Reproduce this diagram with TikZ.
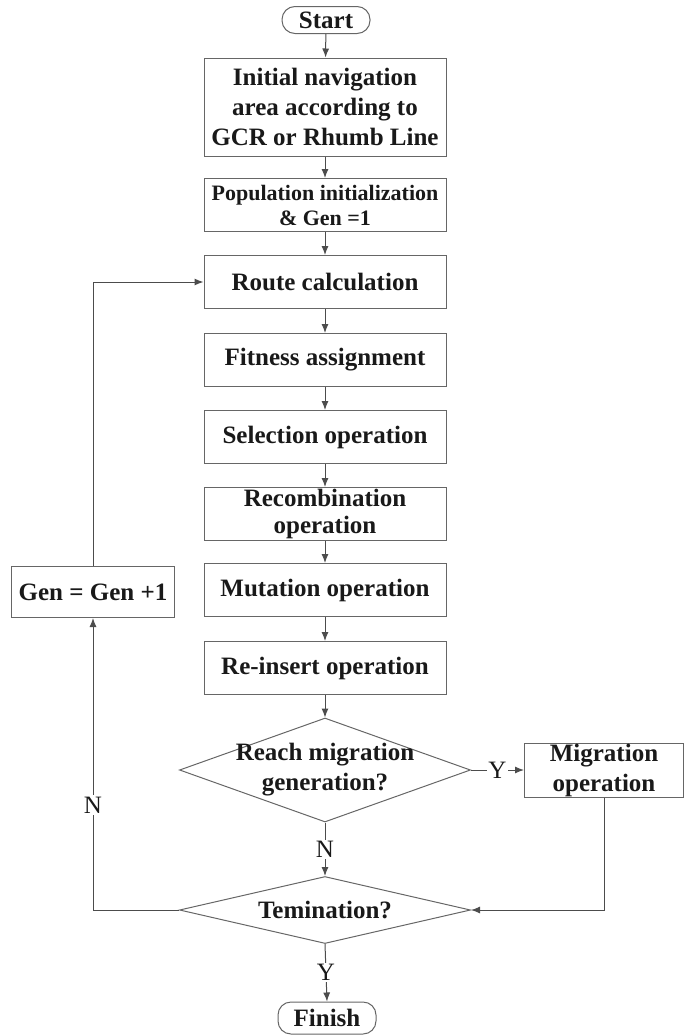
\documentclass[tikz,border=0pt]{standalone}
\usepackage{fontspec}
\setmainfont{Liberation Serif}
\usetikzlibrary{arrows.meta,shapes.geometric}

\begin{document}
\begin{tikzpicture}[x={(1pt,0)}, y={(0,-1pt)}, line width=1pt,
    every node/.style={font=\fontsize{25}{30}\selectfont\bfseries, text=black!90},
    proc/.style={draw=black!60, rectangle, minimum width=242pt, minimum height=53pt, inner sep=0pt, align=center},
    terminal/.style={draw=black!60, rectangle, rounded corners=13pt, inner sep=0pt},
    decision/.style={draw=black!60, diamond, inner sep=0pt, minimum width=291pt},
    flow/.style={draw=black!70, -{Latex[length=9pt,width=7pt]}},
    yn/.style={font=\fontsize{25}{30}\selectfont, fill=white, inner sep=1.5pt}]
    \useasboundingbox (0,0) rectangle (685,1036);

    % Main column
    \node[terminal, minimum width=88pt, minimum height=27pt] (start) at (326,20) {Start};
    \node[proc, minimum height=98pt] (init) at (325,107) {Initial navigation\\area according to\\GCR or Rhumb Line};
    \node[proc, font=\fontsize{22}{25}\selectfont\bfseries] (popinit) at (325,205) {Population initialization\\\& Gen =1};
    \node[proc] (route) at (325,282) {Route calculation};
    \node[proc] (fitness) at (325,360) {Fitness assignment};
    \node[proc] (select) at (325,437) {Selection operation};
    \node[proc, font=\fontsize{25}{27}\selectfont\bfseries] (recomb) at (325,514) {Recombination\\operation};
    \node[proc] (mutate) at (325,590) {Mutation operation};
    \node[proc] (reinsert) at (325,668) {Re-insert operation};

    % Decisions
    \node[decision, minimum height=104pt] (reach) at (325,770) {};
    \node[align=center] (reachtext) at (325,770) {Reach migration\\generation?};
    \node[decision, minimum height=67pt] (termin) at (325,910) {};
    \node (termintext) at (325,910) {Temination?};
    \node[terminal, minimum width=98pt, minimum height=32pt] (finish) at (327,1018) {Finish};

    % Side boxes
    \node[proc, minimum width=159pt, minimum height=54pt] (migrate) at (604,770) {Migration\\operation};
    \node[proc, minimum width=163pt, minimum height=51pt] (gennext) at (93,592) {Gen = Gen +1};

    % Connectors
    \draw[flow] (start) -- (init);
    \draw[flow] (init) -- (popinit);
    \draw[flow] (popinit) -- (route);
    \draw[flow] (route) -- (fitness);
    \draw[flow] (fitness) -- (select);
    \draw[flow] (select) -- (recomb);
    \draw[flow] (recomb) -- (mutate);
    \draw[flow] (mutate) -- (reinsert);
    \draw[flow] (reinsert) -- (reach.north);
    \draw[flow] (reach.east) -- node[yn] {Y} (migrate.west);
    \draw[flow] (reach.south) -- node[yn] {N} (termin.north);
    \draw[flow] (termin.south) -- node[yn] {Y} (finish.north);
    \draw[flow] (migrate.south) |- (termin.east);
    \draw[flow] (termin.west) -| node[yn, pos=0.68] {N} (gennext.south);
    \draw[flow] (gennext.north) |- (route.west);
\end{tikzpicture}
\end{document}
